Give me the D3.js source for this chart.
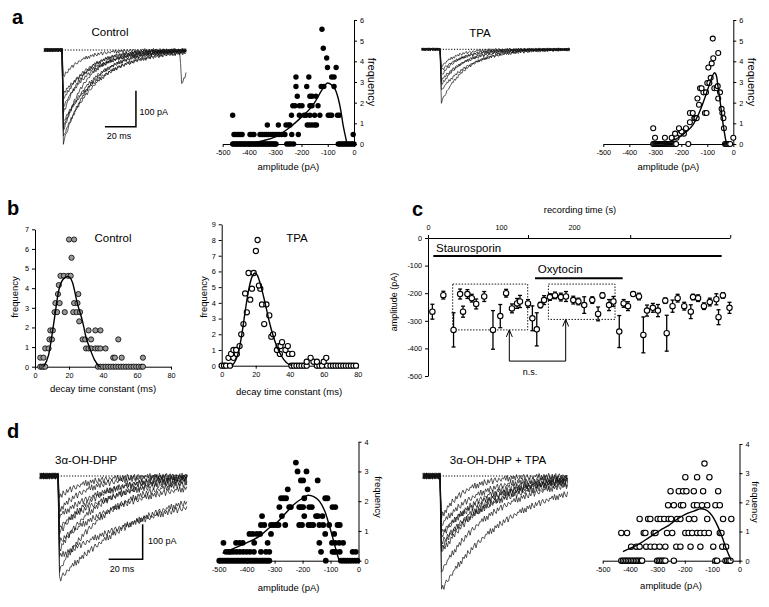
<!DOCTYPE html>
<html><head><meta charset="utf-8">
<script src="https://cdn.jsdelivr.net/npm/d3@7"></script>
<style>body{margin:0;background:#fff}</style>
</head><body><script>
// ---------------- DATA ----------------
const ampTicks = [-500,-400,-300,-200,-100,0];
const decayTicks = [0,20,40,60,80];
const freqTicks6 = [0,1,2,3,4,5,6];
const freqTicks7 = [0,1,2,3,4,5,6,7];
const freqTicks9 = [0,1,2,3,4,5,6,7,8,9];
const freqTicks4 = [0,1,2,3,4];
const recTimeLabelTicks = [0,100,200];
const recTimeMarkTicks = [0,137,277,414];
const recAmpTicks = [0,-100,-200,-300,-400,-500];

// panel a, Control amplitude histogram: [frequency, amplitudes]
const aCtrlRows = [
 [0,[-462,-457,-452,-447,-442,-437,-432,-427,-422,-417,-412,-407,-402,-397,-392,-387,-382,-377,-372,-367,-362,-357,-352,-347,-342,-337,-332,-327,-322,-317,-312,-307,-302,-297,-256,-248,-240,-230,-60,-54,-48,-42,-36,-30,-24,-18,-12,-6,0]],
 [0.46,[-457,-449,-441,-434,-426,-396,-388,-381,-358,-350,-342,-334,-326,-318,-310,-302,-294,-285,-275,-263,-237,-212,-3]],
 [0.92,[-330,-288,-259,-250,-244,-178,-170,-160,-150,-143]],
 [1.39,[-462,-238,-208,-190,-183,-168,-150,-130,-98,-91,-85,-63,-56]],
 [1.85,[-233,-225,-208,-198,-168,-160,-137]],
 [2.31,[-216,-168,-160,-145]],
 [2.78,[-221,-180,-125,-115,-76]],
 [3.24,[-221,-172,-85,-76]],
 [3.70,[-101,-68]],
 [4.16,[-104]],
 [4.63,[-117]],
 [5.55,[-122]]
];
const aCtrlFit = [[-390,0.03],[-350,0.15],[-300,0.35],[-250,0.75],[-200,1.3],[-168,1.7],[-150,2.0],[-130,2.45],[-115,2.75],[-101,2.95],[-85,2.85],[-70,2.6],[-60,2.2],[-50,1.6],[-42,0.95],[-34,0.45],[-28,0.1],[-25,0]];

// panel a, TPA amplitude histogram
const aTpaRows = [
 [0,[-308,-304,-300,-296,-292,-288,-284,-280,-276,-272,-268,-264,-260,-256,-252,-248,-244,-240,-236,-232,-228,-224,-220,-173,-32,-28,-24,-20,-16,-12]],
 [0.3,[-301,-263,-237,-218,0]],
 [0.5,[-224,-205,-190]],
 [0.6,[-199]],
 [0.76,[-308,-209,-182,-36]],
 [1.05,[-167]],
 [1.25,[-150,-146,-141,-38]],
 [1.5,[-167,-156,-109,-103,-42]],
 [1.7,[-45]],
 [1.9,[-132]],
 [2.2,[-138,-58]],
 [2.5,[-115,-105,-51]],
 [2.7,[-128,-122,-73,-64]],
 [2.8,[-60]],
 [2.95,[-100,-92]],
 [3.2,[-87]],
 [3.7,[-96]],
 [3.9,[-83]],
 [4.15,[-77]],
 [4.4,[-58]],
 [5.1,[-79]]
];
const aTpaFit = [[-308,0],[-250,0.1],[-205,0.35],[-180,0.6],[-154,0.95],[-135,1.4],[-122,1.8],[-105,2.4],[-90,2.95],[-80,3.3],[-72,3.45],[-65,3.3],[-58,2.7],[-51,2.1],[-44,1.4],[-36,0.7],[-30,0.25],[-26,0]];

// panel b, decay time constant histograms: [frequency, decay times (ms)]
const bCtrlRows = [
 [0,[3.1,4.1,5.0,6.0,37,38.5,40,41.5,43,44.5,46,47.5,49,50.5,52,53.5,55,56.5,58,59.5,61,62.5,63.5]],
 [0.46,[3.1,5.0,46,47,51,63.5]],
 [0.93,[6.0,8.0,30,31.5,33,35.5,37,38.5,41.5]],
 [1.39,[8.5,10.0,28,29.5,33,49]],
 [1.85,[9.0,10.5,31.5,35.5,38.5]],
 [2.31,[26]],
 [2.78,[11.5,13.0,17.5,22.5,24.5,26.5]],
 [3.24,[12.0,14.5,23.0,25.0]],
 [3.70,[13.5,25.5]],
 [4.16,[14.0]],
 [4.63,[15.0,17.0,19.5,21.0]],
 [5.55,[21.5]],
 [6.48,[20.0,23.0]]
];
const bCtrlFit = [[5,0],[8,0.6],[11,2.2],[14,3.9],[17,4.5],[19.5,4.6],[22,4.3],[25,3.2],[28,2.3],[30,1.5],[32,1.0],[35,0.35],[38,0]];

const bTpaRows = [
 [0,[0,1.4,2.6,4.9,41,42.5,44,45.5,47,48.5,50,56,57.5,59,62,64,65.5,67,68.5,70,71.5,73,74.5,76,77.5,79]],
 [0.25,[50,54,56,60]],
 [0.5,[4.0,6.9,52.3,61.5]],
 [0.75,[5.5,8.9,34.2,39.5,41.5]],
 [1.0,[6.9,8.5,32.5,37.5]],
 [1.25,[10.5,33.5,34.6,38.9]],
 [1.5,[35.5]],
 [1.85,[29.2]],
 [2.0,[11.5,30.2]],
 [2.65,[12.8,25.0]],
 [3.2,[28.0]],
 [3.4,[14.8]],
 [3.9,[23.7,26.3]],
 [4.2,[16.8]],
 [4.6,[13.8]],
 [4.9,[17.8,22.7]],
 [5.1,[21.9]],
 [5.9,[15.8,18.8]],
 [7.3,[20.1]],
 [8.0,[21.1]]
];
const bTpaFit = [[6,0],[8,0.3],[10,0.9],[12,2.1],[14,3.6],[16,4.9],[18,5.7],[19.5,5.9],[21,5.75],[23,5.1],[25.5,4.0],[28,2.8],[30,2.0],[32.5,1.2],[35,0.65],[38,0.2],[41.5,0]];

// panel c, amplitude vs recording time
const recTime = [6,21,35,44,48,54,60,66,77,89,99,107,115,122,126,137,143,149,154,159,167,174,182,189,199,206,214,225,233,239,248,254,262,268,274,281,289,295,300,308,315,325,327,335,342,351,360,363,370,378,386,395,398,404,413];
const recAmp = [-267,-207,-333,-203,-267,-203,-218,-239,-212,-333,-283,-200,-255,-237,-230,-237,-291,-331,-243,-225,-214,-208,-214,-212,-225,-230,-243,-225,-275,-208,-243,-230,-339,-237,-247,-203,-212,-351,-263,-253,-263,-227,-345,-247,-218,-247,-267,-214,-218,-247,-232,-222,-287,-208,-253];
const recErr = [27,14,62,18,20,16,14,18,18,70,42,14,16,18,22,14,45,60,10,16,12,12,14,18,14,12,30,12,25,10,20,18,58,14,16,8,12,65,20,16,22,10,65,22,14,14,25,10,12,12,14,20,27,10,20];

// panel d, amplitude histograms
const dCtrlRows = [
 [0,[-498,-492,-486,-480,-474,-468,-462,-456,-450,-444,-438,-432,-426,-420,-414,-408,-402,-396,-390,-384,-378,-372,-366,-360,-354,-348,-342,-336,-330,-324,-319,-117,-63,-55,-47,-39,-31,-22,-13,-4]],
 [0.3,[-474,-464,-458,-448,-436,-424,-412,-400,-388,-374,-349,-331,-319,-134,-93,-87,-81,-67,-21,-10]],
 [0.6,[-483,-438,-426,-414,-373,-325,-140,-95,-83,-69,-55]],
 [0.9,[-390,-378,-364,-352,-313,-119,-87]],
 [1.2,[-349,-337,-313,-304,-295,-286,-262,-212,-202,-179,-171,-162,-140,-126,-105,-75,-67]],
 [1.5,[-345,-274,-194,-152,-145,-129]],
 [1.8,[-283,-248,-242,-212,-205,-198,-176,-167,-93,-83]],
 [2.1,[-277,-268,-259,-194,-119,-111]],
 [2.4,[-253,-182]],
 [2.7,[-206,-198,-146]],
 [3.0,[-218,-186]],
 [3.3,[-224]]
];
const dCtrlFit = [[-486,0.25],[-450,0.4],[-400,0.6],[-350,0.85],[-320,1.1],[-290,1.3],[-260,1.6],[-230,1.9],[-200,2.1],[-180,2.2],[-160,2.15],[-140,2.0],[-120,1.65],[-105,1.2],[-93,0.8],[-80,0.35],[-70,0.05],[-66,0]];

const dTpaRows = [
 [0,[-432,-426,-420,-414,-408,-402,-396,-390,-384,-378,-372,-366,-360,-356,-301,-295,-289,-283,-277,-271,-240,-88,-82,-51,-45,-39,-33]],
 [0.48,[-396,-377,-365,-341,-325,-310,-292,-271,-231,-216,-179,-143,-96,-63,-49]],
 [0.95,[-432,-411,-350,-344,-313,-307,-265,-246,-198,-186,-173,-155,-143,-128,-112,-72,-66]],
 [1.43,[-365,-334,-326,-299,-289,-275,-259,-250,-228,-216,-185,-165,-118,-60,-30]],
 [1.9,[-261,-240,-214,-206,-167,-155,-137,-118,-88,-72]],
 [2.38,[-252,-222,-206,-194,-167,-133,-78]],
 [2.86,[-198,-155,-110]],
 [3.33,[-128]]
];
const dTpaFit = [[-426,0.31],[-400,0.42],[-362,0.6],[-330,0.8],[-289,1.05],[-260,1.2],[-228,1.42],[-200,1.58],[-167,1.7],[-140,1.78],[-125,1.75],[-110,1.65],[-94,1.45],[-78,1.15],[-63,0.8],[-50,0.45],[-39,0.2],[-30,0]];

// current traces: peak amplitude (pA) and decay time constant (ms) of each trace
const aCtrlTraceAmp = [257,241,227,213,199,176,157,139,120,74];
const aCtrlTraceTau = [18,22,15,20,25,14,19,16,22,12];
const aTpaTraceAmp = [146,114,100,86,72,58,48];
const aTpaTraceTau = [16,19,14,17,12,15,10];
const dCtrlTraceAmp = [295,269,230,211,188,163,145,116,97,59];
const dCtrlTraceTau = [55,30,80,25,45,22,35,28,18,15];
const dTpaTraceAmp = [326,271,220,206,191,174,163,140,117];
const dTpaTraceTau = [40,32,28,26,34,24,30,22,14];
// second event on one control trace: [trace index, onset (ms), amplitude (pA), tau (ms)]
const aCtrlLateEvent = [3,76.2,92,7.5];
// fixed recording-noise pattern (relative units)
const noisePattern = [0,0.8,-0.5,1,-0.9,0.4,-1,0.7,-0.3,0.6,-0.8,1,-0.2,-0.9,0.7,-0.5,0.3,0.9,-1,0.2,0.8,-0.4,-0.7,0.5,0.1,-0.6,0.4];

// ---------------- DRAWING ----------------
const FONT = "'Liberation Sans', Arial, Helvetica, sans-serif";
const svg = d3.select("body").append("svg").attr("width",769).attr("height",607);
svg.append("rect").attr("width",769).attr("height",607).attr("fill","#fff");

function txt(x,y,s,o={}){
  const t = svg.append("text").attr("x",x).attr("y",y).text(s)
    .attr("font-family",FONT).attr("font-size",o.fs||10).attr("fill","#000")
    .attr("text-anchor",o.anchor||"start");
  if(o.bold) t.attr("font-weight","bold");
  if(o.rot){ t.attr("x",0).attr("y",0).attr("dy","0.35em").attr("transform",`translate(${x},${y}) rotate(${o.rot})`); }
  return t;
}
function styleAx(sel, fs){
  sel.attr("font-family",FONT).attr("font-size",fs);
  sel.selectAll("path,line").attr("stroke","#000").attr("stroke-width",1);
  sel.selectAll("text").attr("fill","#000");
}
const fmt = d => String(d);

function flatten(rows){ const out=[]; rows.forEach(([f,xs])=>xs.forEach(v=>out.push([v,f]))); return out; }

function scatter(o){
  const x = d3.scaleLinear().domain(o.xd).range(o.xr);
  const y = d3.scaleLinear().domain(o.yd).range(o.yr);
  const g = svg.append("g");
  g.append("g").attr("transform",`translate(0,${y(0)})`)
    .call(d3.axisBottom(x).tickValues(o.xt).tickFormat(fmt).tickSize(3).tickSizeOuter(0).tickPadding(3))
    .call(styleAx,7.3);
  const ya = (o.side==="right"? d3.axisRight(y): d3.axisLeft(y)).tickValues(o.yt).tickFormat(fmt).tickSize(3).tickSizeOuter(0).tickPadding(3);
  g.append("g").attr("transform",`translate(${x(0)},0)`).call(ya).call(styleAx,7.3);
  const pts = flatten(o.rows);
  g.append("g").selectAll("circle").data(pts).join("circle")
    .attr("cx",d=>x(d[0])).attr("cy",d=>y(d[1])).attr("r",o.r)
    .attr("fill", o.style==="filled"?"#000":(o.style==="grey"?"#9a9a9a":"#fff"))
    .attr("stroke","#000").attr("stroke-width", o.style==="filled"?0:(o.style==="grey"?0.8:1.1));
  g.append("path").datum(o.fit)
    .attr("d", d3.line().x(d=>x(d[0])).y(d=>y(d[1])).curve(d3.curveMonotoneX))
    .attr("fill","none").attr("stroke","#000").attr("stroke-width",1.4);
  return {x,y};
}

// panel a scatter plots
scatter({xd:[-500,0],xr:[222.7,354],yd:[0,6],yr:[144,20],xt:ampTicks,yt:freqTicks6,side:"right",rows:aCtrlRows,fit:aCtrlFit,style:"filled",r:2.7});
txt(288.4,170,"amplitude (pA)",{fs:9.5,anchor:"middle"});
txt(372,82,"frequency",{fs:11,anchor:"middle",rot:90});
scatter({xd:[-500,0],xr:[603.3,733.3],yd:[0,6],yr:[144,20],xt:ampTicks,yt:freqTicks6,side:"right",rows:aTpaRows,fit:aTpaFit,style:"open",r:2.5});
txt(668.3,170,"amplitude (pA)",{fs:9.5,anchor:"middle"});
txt(752,82,"frequency",{fs:11,anchor:"middle",rot:90});

// panel b
scatter({xd:[0,80],xr:[35,171],yd:[0,7],yr:[366.7,229.3],xt:decayTicks,yt:freqTicks7,side:"left",rows:bCtrlRows,fit:bCtrlFit,style:"grey",r:2.6});
txt(103,392,"decay time constant (ms)",{fs:9.5,anchor:"middle"});
txt(15,297,"frequency",{fs:9.5,anchor:"middle",rot:-90});
txt(113,242,"Control",{fs:11.5,anchor:"middle"});
scatter({xd:[0,80],xr:[221.7,357.7],yd:[0,9],yr:[365.7,224.3],xt:decayTicks,yt:freqTicks9,side:"left",rows:bTpaRows,fit:bTpaFit,style:"open",r:2.6});
txt(289,395,"decay time constant (ms)",{fs:9.5,anchor:"middle"});
txt(204,297,"frequency",{fs:9.5,anchor:"middle",rot:-90});
txt(297,242,"TPA",{fs:11.5,anchor:"middle"});

// panel d scatter
scatter({xd:[-500,0],xr:[218.7,358.5],yd:[0,4],yr:[560.7,441.7],xt:ampTicks,yt:freqTicks4,side:"right",rows:dCtrlRows,fit:dCtrlFit,style:"filled",r:2.9});
txt(288.6,591,"amplitude (pA)",{fs:9.5,anchor:"middle"});
txt(378,497,"frequency",{fs:9.5,anchor:"middle",rot:90});
scatter({xd:[-500,0],xr:[602.7,739.5],yd:[0,4],yr:[560.7,444],xt:ampTicks,yt:freqTicks4,side:"right",rows:dTpaRows,fit:dTpaFit,style:"open",r:2.7});
txt(671,589,"amplitude (pA)",{fs:9.5,anchor:"middle"});
txt(755,502,"frequency",{fs:9.5,anchor:"middle",rot:90});

// panel c
(function(){
  const x = d3.scaleLinear().domain([0,413.7]).range([428,730]);
  const y = d3.scaleLinear().domain([-500,0]).range([376,238]);
  const g = svg.append("g");
  g.append("g").attr("transform",`translate(0,${y(0)})`)
    .call(d3.axisTop(x).tickValues(recTimeMarkTicks).tickFormat("").tickSize(3).tickSizeOuter(0)).call(styleAx,7.3);
  const lab = g.append("g").attr("transform",`translate(0,${y(0)})`)
    .call(d3.axisTop(x).tickValues(recTimeLabelTicks).tickFormat(fmt).tickSize(0).tickPadding(8));
  lab.select(".domain").remove(); lab.call(styleAx,7.3);
  g.append("g").attr("transform",`translate(${x(0)},0)`)
    .call(d3.axisLeft(y).tickValues(recAmpTicks).tickFormat(fmt).tickSize(3).tickSizeOuter(0).tickPadding(3)).call(styleAx,7.3);
  txt(580,213,"recording time (s)",{fs:9.3,anchor:"middle"});
  txt(394,302,"amplitude (pA)",{fs:9,anchor:"middle",rot:-90});
  // drug application bars
  g.append("line").attr("x1",x(7.3)).attr("x2",x(402.3)).attr("y1",y(-65)).attr("y2",y(-65)).attr("stroke","#000").attr("stroke-width",2);
  g.append("line").attr("x1",x(146.6)).attr("x2",x(266.7)).attr("y1",y(-146)).attr("y2",y(-146)).attr("stroke","#000").attr("stroke-width",2);
  txt(x(11),y(-50),"Staurosporin",{fs:11.5});
  txt(x(150.5),y(-128),"Oxytocin",{fs:11.5});
  // dotted comparison boxes
  [[33.8,136.6,-167,-333],[164.9,256.2,-167,-295]].forEach(b=>{
    g.append("rect").attr("x",x(b[0])).attr("y",y(b[2])).attr("width",x(b[1])-x(b[0])).attr("height",y(b[3])-y(b[2]))
      .attr("fill","none").attr("stroke","#000").attr("stroke-width",0.9).attr("stroke-dasharray","1.5,1.5");
  });
  // comparison arrows
  g.append("path").attr("d",`M${x(111.4)},${y(-335)}V${y(-446)}H${x(188.6)}V${y(-297)}`)
    .attr("fill","none").attr("stroke","#000").attr("stroke-width",1);
  [[111.4,-333],[188.6,-295]].forEach(a=>{
    const ax=x(a[0]), ay=y(a[1]);
    g.append("path").attr("d",`M${ax-3},${ay+7}L${ax},${ay}L${ax+3},${ay+7}`).attr("fill","none").attr("stroke","#000").attr("stroke-width",1);
  });
  txt(x(139.7),y(-485)+3,"n.s.",{fs:9,anchor:"middle"});
  // error bars and points
  const eg = g.append("g");
  recTime.forEach((t,i)=>{
    const cx=x(t), a=recAmp[i], e=recErr[i];
    eg.append("line").attr("x1",cx).attr("x2",cx).attr("y1",y(a-e)).attr("y2",y(a+e)).attr("stroke","#000").attr("stroke-width",1.3);
    [a-e,a+e].forEach(v=>eg.append("line").attr("x1",cx-2).attr("x2",cx+2).attr("y1",y(v)).attr("y2",y(v)).attr("stroke","#000").attr("stroke-width",1.3));
  });
  eg.selectAll("circle").data(recTime).join("circle").attr("cx",d=>x(d)).attr("cy",(d,i)=>y(recAmp[i])).attr("r",2.7)
    .attr("fill","#fff").attr("stroke","#000").attr("stroke-width",1.1);
})();

// traces
function traces(o){
  const x = d3.scaleLinear().domain([0,20]).range([o.x0,o.x0+o.px20]);
  const y = d3.scaleLinear().domain([0,-100]).range([o.y0,o.y0+o.px100]);
  const g = svg.append("g");
  g.append("line").attr("x1",x(0)).attr("x2",x(o.tEnd)).attr("y1",y(0)).attr("y2",y(0))
    .attr("stroke","#000").attr("stroke-width",1).attr("stroke-dasharray","1.2,1.6");
  const line = d3.line().x(d=>x(d[0])).y(d=>y(d[1]));
  o.amps.forEach((A,i)=>{
    const tau=o.taus[i]; const ts=[];
    for(let t=o.tStart;t<0;t+=o.dt) ts.push(t);
    ts.push(0); ts.push(0.9);
    for(let t=0.9+o.dt;t<=o.tEnd;t+=o.dt) ts.push(t);
    const pts = ts.map((t,k)=>{
      let I = t<0?0:(t<0.9?-A*t/0.9:-A*Math.exp(-(t-0.9)/tau));
      if(o.late && o.late[0]===i && t>=o.late[1]){
        const tt=t-o.late[1]; I += tt<1.0? -o.late[2]*tt : -o.late[2]*Math.exp(-(tt-1)/o.late[3]);
      }
      I += o.noise*noisePattern[(k+i*5)%noisePattern.length];
      return [t,I];
    });
    g.append("path").datum(pts).attr("d",line).attr("fill","none").attr("stroke","#111").attr("stroke-width",0.7);
  });
  if(o.bar){
    const b=o.bar;
    g.append("path").attr("d",`M${x(b[0])},${y(b[2])}H${x(b[1])}V${y(b[3])}`).attr("fill","none").attr("stroke","#000").attr("stroke-width",1.5);
  }
}
traces({x0:62,px20:31,y0:50,px100:36,tStart:-11.5,tEnd:80.6,dt:0.7,noise:5,amps:aCtrlTraceAmp,taus:aCtrlTraceTau,late:aCtrlLateEvent,bar:[27.7,47.7,-213,-113]});
traces({x0:440,px20:31,y0:49.3,px100:36,tStart:-11.8,tEnd:84,dt:0.7,noise:4,amps:aTpaTraceAmp,taus:aTpaTraceTau});
traces({x0:58,px20:34,y0:476,px100:35,tStart:-10.6,tEnd:76.5,dt:0.7,noise:9,amps:dCtrlTraceAmp,taus:dCtrlTraceTau,bar:[29.8,49.8,-238,-138]});
traces({x0:440,px20:34,y0:476,px100:35,tStart:-10,tEnd:75.3,dt:0.7,noise:9,amps:dTpaTraceAmp,taus:dTpaTraceTau});

txt(110,36,"Control",{fs:11.5,anchor:"middle"});
txt(480,37,"TPA",{fs:11.5,anchor:"middle"});
txt(139.5,115,"100 pA",{fs:9});
txt(119,139,"20 ms",{fs:9,anchor:"middle"});
txt(55,464,"3α-OH-DHP",{fs:11.5});
txt(498,464,"3α-OH-DHP + TPA",{fs:11.5,anchor:"middle"});
txt(148,544,"100 pA",{fs:9});
txt(122,572,"20 ms",{fs:9,anchor:"middle"});

// panel letters
txt(12,24,"a",{fs:20,bold:true});
txt(7,215,"b",{fs:20,bold:true});
txt(412,216,"c",{fs:20,bold:true});
txt(7,438,"d",{fs:20,bold:true});
</script></body></html>
